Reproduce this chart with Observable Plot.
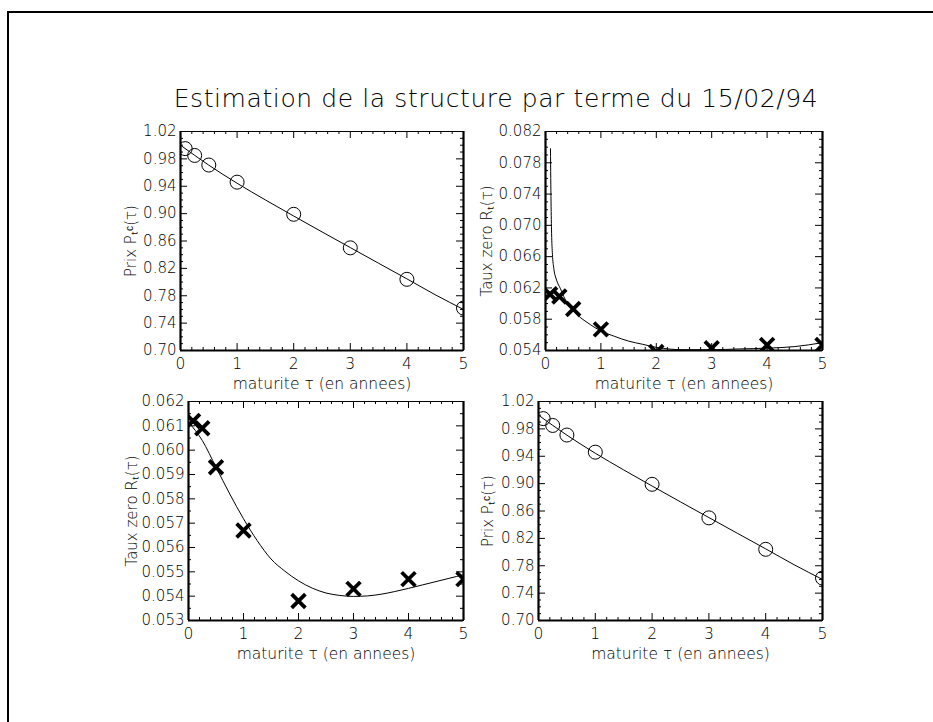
<!DOCTYPE html>
<html>
<head>
<meta charset="utf-8">
<script src="https://cdn.jsdelivr.net/npm/d3@7"></script>
<script src="https://cdn.jsdelivr.net/npm/@observablehq/plot@0.6"></script>
<style>
  body { margin: 0; background: #fff; }
  #root { position: relative; width: 933px; height: 722px; overflow: hidden; background: #fff;
          font-family: "DejaVu Sans", sans-serif; color: #000; }
  #border { position: absolute; left: 7px; top: 11px; width: 960px; height: 760px;
            border-top: 2px solid #000; border-left: 2px solid #000; }
  #title { position: absolute; left: 0; width: 992px; top: 84px; text-align: center;
           font-size: 25px; font-weight: 200; letter-spacing: 0.6px; white-space: nowrap; }
  .panel { position: absolute; }
  .panel svg { overflow: visible; }
</style>
</head>
<body>
<div id="root">
  <div id="border"></div>
  <div id="title">Estimation de la structure par terme du 15/02/94</div>
  <div class="panel" id="p1"></div>
  <div class="panel" id="p2"></div>
  <div class="panel" id="p3"></div>
  <div class="panel" id="p4"></div>
</div>
<script>
// ---- data ----
const maturites = [0.083, 0.25, 0.5, 1, 2, 3, 4, 5];
const prixObserves = [0.995, 0.985, 0.971, 0.946, 0.899, 0.850, 0.804, 0.762];
const tauxObserves = [0.0612, 0.0609, 0.0593, 0.0567, 0.0538, 0.0543, 0.0547, 0.0547];

const courbePrixX = [0, 0.5, 1, 1.5, 2, 2.5, 3, 3.5, 4, 4.5, 5];
const courbePrixY = [1.000, 0.9708, 0.9444, 0.9200, 0.8965, 0.8733, 0.8504, 0.8275, 0.8047, 0.7815, 0.7600];

const courbeTaux2X = [0.09, 0.095, 0.1, 0.11, 0.125, 0.15, 0.2, 0.27, 0.35, 0.45, 0.6, 0.75, 1.0, 1.25, 1.5, 1.75, 2.0, 2.5, 3.0, 3.5, 4.0, 4.5, 5.0];
const courbeTaux2Y = [0.0798, 0.0760, 0.0730, 0.0690, 0.0663, 0.0645, 0.0630, 0.0619, 0.0606, 0.0596, 0.0584, 0.0576, 0.0565, 0.0558, 0.0552, 0.0548, 0.0544, 0.0541, 0.0541, 0.0542, 0.0543, 0.0545, 0.0550];

const courbeTaux3X = [0, 0.25, 0.5, 0.75, 1, 1.25, 1.5, 1.75, 2, 2.25, 2.5, 2.75, 3, 3.25, 3.5, 3.75, 4, 4.25, 4.5, 4.75, 5];
const courbeTaux3Y = [0.06115, 0.0604, 0.0593, 0.0582, 0.05718, 0.05628, 0.05553, 0.05503, 0.05463, 0.05433, 0.05413, 0.05403, 0.05399, 0.05401, 0.05408, 0.05419, 0.05432, 0.05446, 0.0546, 0.05474, 0.05488];

const xTicks = [0, 1, 2, 3, 4, 5];
const xMinor = [0.2, 0.4, 0.6, 0.8, 1.2, 1.4, 1.6, 1.8, 2.2, 2.4, 2.6, 2.8, 3.2, 3.4, 3.6, 3.8, 4.2, 4.4, 4.6, 4.8];
const yTicksPrix = [0.70, 0.74, 0.78, 0.82, 0.86, 0.90, 0.94, 0.98, 1.02];
const yMinorPrix = [0.71, 0.72, 0.73, 0.75, 0.76, 0.77, 0.79, 0.80, 0.81, 0.83, 0.84, 0.85, 0.87, 0.88, 0.89, 0.91, 0.92, 0.93, 0.95, 0.96, 0.97, 0.99, 1.00, 1.01];
const yTicksTaux2 = [0.054, 0.058, 0.062, 0.066, 0.070, 0.074, 0.078, 0.082];
const yMinorTaux2 = [0.055, 0.056, 0.057, 0.059, 0.060, 0.061, 0.063, 0.064, 0.065, 0.067, 0.068, 0.069, 0.071, 0.072, 0.073, 0.075, 0.076, 0.077, 0.079, 0.080, 0.081];
const yTicksTaux3 = [0.053, 0.054, 0.055, 0.056, 0.057, 0.058, 0.059, 0.060, 0.061, 0.062];
const yMinorTaux3 = [0.0535, 0.0545, 0.0555, 0.0565, 0.0575, 0.0585, 0.0595, 0.0605, 0.0615];

const xLabel = "maturite τ (en annees)";
const labelPrix = "Prix Pₜᶜ(τ)";
const labelTaux = "Taux zero Rₜ(τ)";

// ---- panels ----
const pts = (xs, ys) => xs.map((x, i) => ({x, y: ys[i]}));

function panel({el, left, top, plotW, plotH, yDomain, yTicks, yMinor, yFmt, yLabel, yLabelOffset, curve, points, symbol}) {
  const mL = 120, mR = 20, mT = 10, mB = 50;
  const font = "'DejaVu Sans', sans-serif";
  const marks = [
    Plot.line(curve, {x: "x", y: "y", stroke: "#000", strokeWidth: 1, curve: "monotone-x", clip: true}),
    symbol === "circle"
      ? Plot.dot(points, {x: "x", y: "y", r: 7, stroke: "#000", fill: "none", strokeWidth: 1, clip: true})
      : Plot.dot(points, {x: "x", y: "y", symbol: "times", r: 6.3, stroke: "#000", strokeWidth: 3.8, clip: true}),
    Plot.frame({stroke: "#000", strokeWidth: 1}),
    Plot.ruleX([0, 5], {stroke: "#000", strokeWidth: 2.2}),
    Plot.ruleY([yDomain[0]], {stroke: "#000", strokeWidth: 2.2}),
    Plot.ruleX(xTicks, {insetTop: plotH - 7, stroke: "#000", strokeWidth: 1}),
    Plot.ruleX(xTicks, {insetBottom: plotH - 7, stroke: "#000", strokeWidth: 1}),
    Plot.ruleX(xMinor, {insetTop: plotH - 3, stroke: "#000", strokeWidth: 1}),
    Plot.ruleX(xMinor, {insetBottom: plotH - 3, stroke: "#000", strokeWidth: 1}),
    Plot.ruleY(yTicks, {insetRight: plotW - 7, stroke: "#000", strokeWidth: 1}),
    Plot.ruleY(yTicks, {insetLeft: plotW - 7, stroke: "#000", strokeWidth: 1}),
    Plot.ruleY(yMinor, {insetRight: plotW - 3, stroke: "#000", strokeWidth: 1}),
    Plot.ruleY(yMinor, {insetLeft: plotW - 3, stroke: "#000", strokeWidth: 1}),
    Plot.axisX(xTicks, {tickSize: 0, tickPadding: 7, tickFormat: d3.format("d"), label: xLabel,
      labelAnchor: "center", labelArrow: "none", labelOffset: 38, fontSize: 15.5}),
    Plot.axisY(yTicks, {tickSize: 0, tickPadding: 4, tickFormat: d3.format(yFmt), label: yLabel,
      labelAnchor: "center", labelArrow: "none", labelOffset: yLabelOffset, fontSize: 15})
  ];
  const chart = Plot.plot({
    width: mL + plotW + mR, height: mT + plotH + mB,
    marginLeft: mL, marginRight: mR, marginTop: mT, marginBottom: mB,
    style: {fontFamily: font, fontSize: "15px", fontWeight: 200, background: "transparent", color: "#000", overflow: "visible"},
    x: {domain: [0, 5]},
    y: {domain: yDomain},
    marks
  });
  const div = document.getElementById(el);
  div.style.left = (left - mL) + "px";
  div.style.top = (top - mT) + "px";
  div.appendChild(chart);
}

panel({el: "p1", left: 180, top: 131, plotW: 283, plotH: 219, yDomain: [0.70, 1.02], yTicks: yTicksPrix, yMinor: yMinorPrix,
  yFmt: ".2f", yLabel: labelPrix, yLabelOffset: 55, curve: pts(courbePrixX, courbePrixY), points: pts(maturites, prixObserves), symbol: "circle"});
panel({el: "p2", left: 545, top: 131, plotW: 277, plotH: 219, yDomain: [0.054, 0.082], yTicks: yTicksTaux2, yMinor: yMinorTaux2,
  yFmt: ".3f", yLabel: labelTaux, yLabelOffset: 64, curve: pts(courbeTaux2X, courbeTaux2Y), points: pts(maturites, tauxObserves), symbol: "times"});
panel({el: "p3", left: 188, top: 401, plotW: 275, plotH: 219, yDomain: [0.053, 0.062], yTicks: yTicksTaux3, yMinor: yMinorTaux3,
  yFmt: ".3f", yLabel: labelTaux, yLabelOffset: 62, curve: pts(courbeTaux3X, courbeTaux3Y), points: pts(maturites, tauxObserves), symbol: "times"});
panel({el: "p4", left: 538, top: 401, plotW: 284, plotH: 219, yDomain: [0.70, 1.02], yTicks: yTicksPrix, yMinor: yMinorPrix,
  yFmt: ".2f", yLabel: labelPrix, yLabelOffset: 56, curve: pts(courbePrixX, courbePrixY), points: pts(maturites, prixObserves), symbol: "circle"});
</script>
</body>
</html>
